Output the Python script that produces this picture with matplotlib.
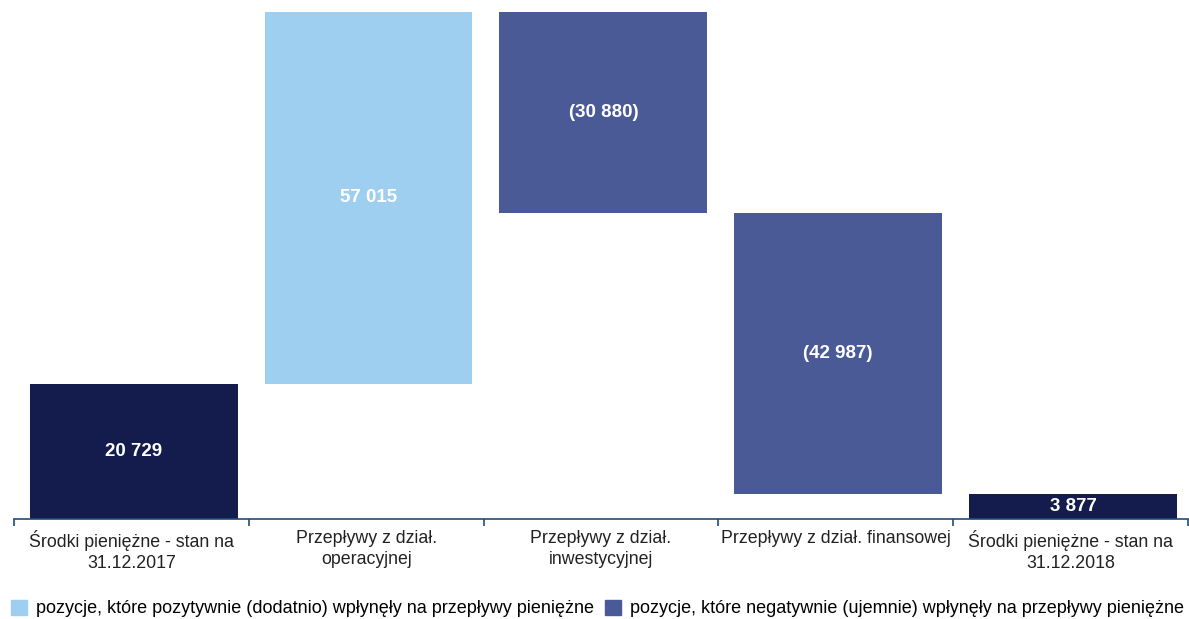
import numpy as np
import matplotlib.pyplot as plt
from matplotlib.patches import Patch

plt.rcParams['font.family'] = ['Liberation Sans', 'DejaVu Sans']

categories = ['Środki pieniężne - stan na\n31.12.2017',
              'Przepływy z dział.\noperacyjnej',
              'Przepływy z dział.\ninwestycyjnej',
              'Przepływy z dział. finansowej',
              'Środki pieniężne - stan na\n31.12.2018']
values = [20729, 57015, -30880, -42987, 3877]
labels = ['20 729', '57 015', '(30 880)', '(42 987)', '3 877']
kinds = ['total', 'delta', 'delta', 'delta', 'total']

c_total = '#141B4D'
c_pos = '#9FCFF0'
c_neg = '#4A5A96'

fig = plt.figure(figsize=(11.89, 6.19), dpi=100)
ax = fig.add_axes([14/1189, 1-519/619, (1188-14)/1189, 519/619])

x = np.arange(len(values))
run = 0
bottoms, heights, colors = [], [], []
for v, k in zip(values, kinds):
    if k == 'total':
        bottoms.append(0)
        heights.append(v)
        colors.append(c_total)
        run = v
    else:
        if v >= 0:
            bottoms.append(run)
            heights.append(v)
            colors.append(c_pos)
        else:
            bottoms.append(run + v)
            heights.append(-v)
            colors.append(c_neg)
        run += v

ax.bar(x + 0.01, heights, bottom=bottoms, width=0.885, color=colors)
for xi, b, h, t in zip(x, bottoms, heights, labels):
    ax.text(xi + 0.01, b + h/2, t, ha='center', va='center', color='white',
            fontsize=13.5, fontweight='bold')

ax.set_xlim(-0.5, len(values) - 0.5)
ax.set_ylim(0, 79600)
for s in ['top', 'right', 'left']:
    ax.spines[s].set_visible(False)
ax.spines['bottom'].set_color('#1F4E79')
ax.spines['bottom'].set_linewidth(1.2)
ax.set_yticks([])
ax.set_xticks(x)
ax.set_xticklabels(categories, fontsize=12.8, color='#222222', linespacing=1.3)
ax.tick_params(axis='x', which='major', length=0, pad=8)
ax.set_xticks(np.arange(len(values) + 1) - 0.5, minor=True)
ax.tick_params(axis='x', which='minor', length=5, width=1.2, color='#1F4E79', direction='out')

handles = [Patch(color=c_pos, label='pozycje, które pozytywnie (dodatnio) wpłynęły na przepływy pieniężne'),
           Patch(color=c_neg, label='pozycje, które negatywnie (ujemnie) wpłynęły na przepływy pieniężne')]
fig.legend(handles=handles, loc='lower left', bbox_to_anchor=(0.0, -0.015), ncol=2,
           frameon=False, fontsize=13, handlelength=0.9, handleheight=0.9,
           handletextpad=0.5, columnspacing=0.6, borderaxespad=0.2)

fig.savefig('out.png', dpi=100)
